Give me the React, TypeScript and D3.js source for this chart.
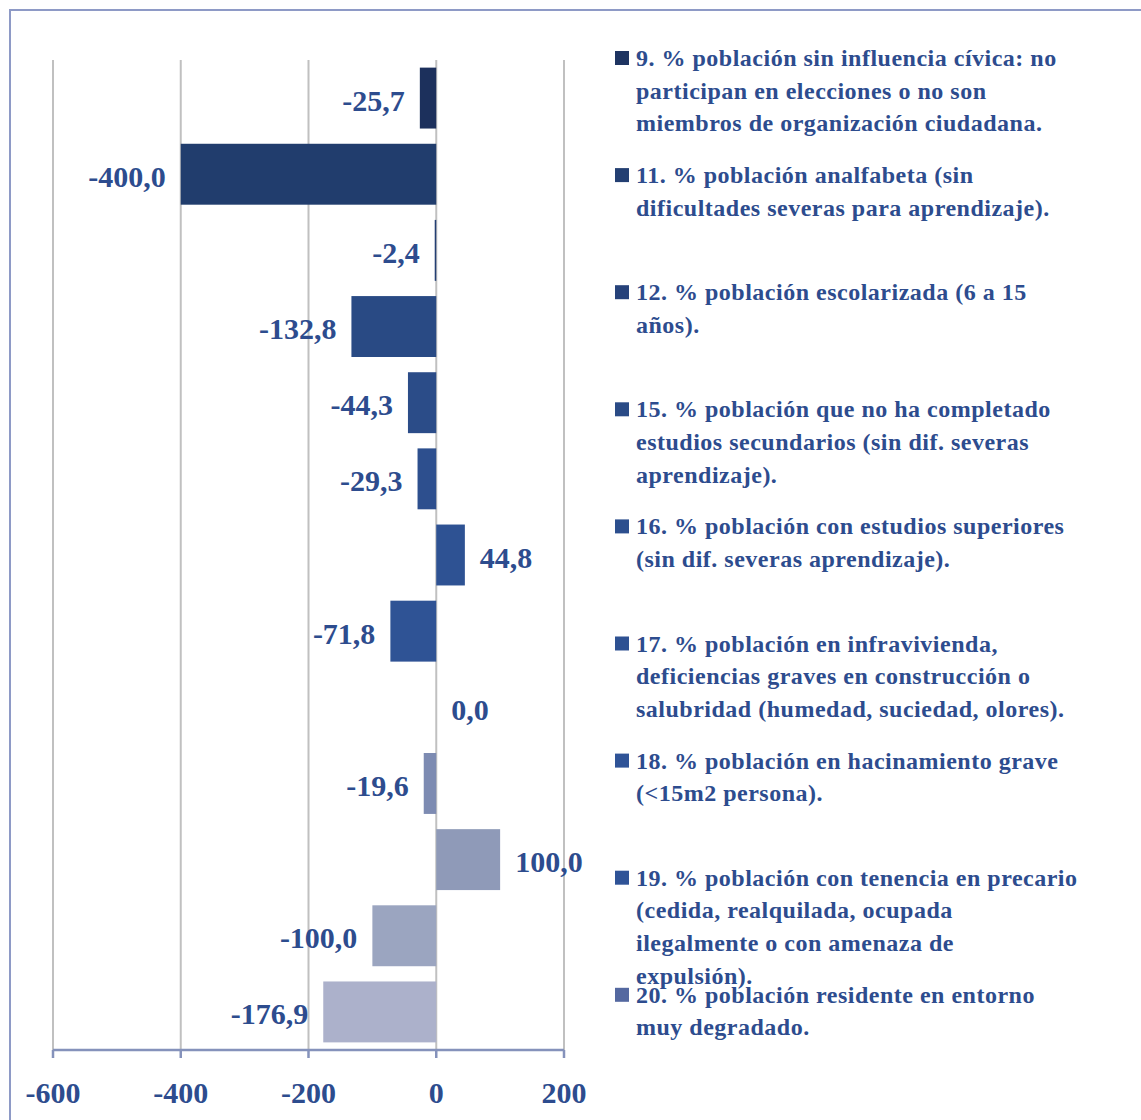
import React from "react";
import * as d3 from "d3";

const barValues: number[] = [-25.7, -400.0, -2.4, -132.8, -44.3, -29.3, 44.8, -71.8, 0.0, -19.6, 100.0, -100.0, -176.9];
const barColors: string[] = ["#1c305c", "#213d6d", "#243f73", "#294a84", "#2b4c88", "#2d4f8e", "#2e5293", "#2f5395", "#2f5397", "#7d8bb2", "#8f9ab8", "#9ba5c0", "#acb1cb"];
const xTicks: number[] = [-600, -400, -200, 0, 200];
const legendLines: string[][] = [
  ["9. % población sin influencia cívica: no", "participan en elecciones o no son", "miembros de organización ciudadana."],
  ["11. % población analfabeta (sin", "dificultades severas para aprendizaje)."],
  ["12. % población escolarizada (6 a 15", "años)."],
  ["15. % población que no ha completado", "estudios secundarios (sin dif. severas", "aprendizaje)."],
  ["16. % población con estudios superiores", "(sin dif. severas aprendizaje)."],
  ["17. % población en infravivienda,", "deficiencias graves en construcción o", "salubridad (humedad, suciedad, olores)."],
  ["18. % población en hacinamiento grave", "(<15m2 persona)."],
  ["19. % población con tenencia en precario", "(cedida, realquilada, ocupada", "ilegalmente o con amenaza de", "expulsión)."],
  ["20. % población residente en entorno", "muy degradado."],
];
const legendColors: string[] = ["#1e3461", "#233f72", "#26427a", "#2a4b86", "#2c4f8e", "#2e5192", "#2f5397", "#2f5397", "#5468a0"];

const W = 1141;
const H = 1120;
const FONT = "'Palatino Linotype', 'Book Antiqua', Palatino, 'Liberation Serif', serif";
const TEXT = "#2d4c8e";

export default function App() {
  const x = d3.scaleLinear().domain([-600, 200]).range([53, 564]);
  const y = d3
    .scaleBand<number>()
    .domain(d3.range(barValues.length))
    .range([60, 1050])
    .paddingInner(0.2)
    .paddingOuter(0.1);
  const fmt = (v: number) => d3.format(".1f")(v).replace(".", ",").replace("\u2212", "-");
  const plotTop = 60;
  const plotBottom = 1050;
  const legendY = d3.scaleLinear().domain([0, 1]).range([58, 175.1]);
  const lineH = 32.6;

  return (
    <svg
      width={W}
      height={H}
      style={{ position: "absolute", left: 0, top: 0, background: "#fff" }}
      fontFamily={FONT}
      fontWeight="bold"
    >
      <rect x={10} y={10} width={W + 50} height={H + 50} fill="#fff" stroke="#8e9ac6" strokeWidth={2} />
      {xTicks.map((t) => (
        <line key={"g" + t} x1={x(t)} x2={x(t)} y1={plotTop} y2={plotBottom} stroke="#c0c0c0" strokeWidth={2} />
      ))}
      {barValues.map((v, i) => {
        const x0 = x(Math.min(0, v));
        const x1 = x(Math.max(0, v));
        const by = y(i)!;
        const bh = y.bandwidth();
        const cy = by + bh / 2;
        const neg = v < 0;
        return (
          <g key={"b" + i}>
            {v !== 0 && <rect x={x0} y={by} width={x1 - x0} height={bh} fill={barColors[i]} />}
            <text
              x={neg ? x0 - 15 : x1 + 15}
              y={cy + 2}
              textAnchor={neg ? "end" : "start"}
              dominantBaseline="central"
              fontSize={30}
              fill={TEXT}
            >
              {fmt(v)}
            </text>
          </g>
        );
      })}
      <line x1={x(-600)} x2={x(200)} y1={plotBottom} y2={plotBottom} stroke="#8592bb" strokeWidth={2.5} />
      {xTicks.map((t) => (
        <g key={"t" + t}>
          <line x1={x(t)} x2={x(t)} y1={plotBottom} y2={plotBottom + 8} stroke="#8592bb" strokeWidth={2.5} />
          <text x={x(t)} y={1092} textAnchor="middle" dominantBaseline="central" fontSize={30} fill={TEXT}>
            {String(t)}
          </text>
        </g>
      ))}
      {legendLines.map((lines, i) => {
        const ly = legendY(i);
        return (
          <g key={"l" + i}>
            <rect x={615} y={ly - 7} width={14} height={14} fill={legendColors[i]} />
            {lines.map((ln, j) => (
              <text
                key={j}
                x={636}
                y={ly + j * lineH}
                dominantBaseline="central"
                fontSize={24}
                letterSpacing={0.5}
                fill={TEXT}
              >
                {ln}
              </text>
            ))}
          </g>
        );
      })}
    </svg>
  );
}
